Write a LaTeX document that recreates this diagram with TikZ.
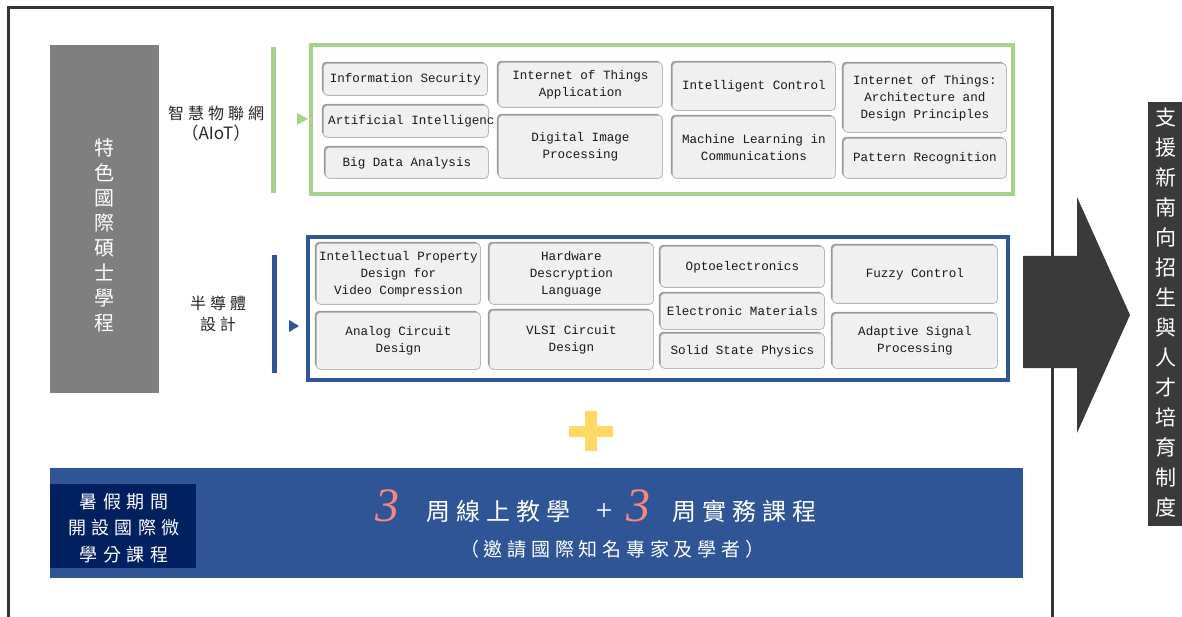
\documentclass[tikz,border=0pt]{standalone}
\usepackage{fontspec}
\setmainfont{Liberation Serif}
\newfontfamily\cjk[LetterSpace=25]{Noto Sans CJK TC}
\newfontfamily\cjkw[LetterSpace=30]{Noto Sans CJK TC}
\newfontfamily\cjkv{Noto Sans CJK TC}
\newfontfamily\mono{Liberation Mono}
\usetikzlibrary{shadows}
\definecolor{framegray}{HTML}{333333}
\definecolor{boxgray}{HTML}{7F7F7F}
\definecolor{aiotgreen}{HTML}{A9D18E}
\definecolor{semiblue}{HTML}{2F5597}
\definecolor{navy}{HTML}{002060}
\definecolor{arrowgray}{HTML}{3A3A3A}
\definecolor{plusyellow}{HTML}{FFD966}
\definecolor{threepink}{HTML}{F4877F}
\definecolor{cellfill}{HTML}{F0F0F0}
\tikzset{
  cell/.style={draw=gray!55, line width=0.8pt, fill=cellfill, rounded corners=4pt,
    drop shadow={shadow xshift=-1.5pt, shadow yshift=1.5pt, fill=gray!80, opacity=1},
    anchor=north west, inner sep=0pt, align=center,
    font=\mono\fontsize{12.6}{17}\selectfont, text=black!85},
  celltext/.style={inner sep=0pt, align=center, font=\mono\fontsize{12.6}{17}\selectfont, text=black!90},
  catlabel/.style={inner sep=0pt, align=center, font=\cjk\fontsize{16}{21}\selectfont, text=black!85},
}
\begin{document}
\begin{tikzpicture}[x=1pt, y=-1pt]
\useasboundingbox (0,0) rectangle (1182,617);
% outer frame
\draw[framegray, line width=3pt] (8,625) -- (8,8) -- (1052,8) -- (1052,625);

% left gray box
\node[fill=boxgray, minimum width=109pt, minimum height=348pt, inner sep=0pt, anchor=north west] (prog) at (50,45) {};
\node[inner sep=0pt, align=center, text=white, font=\cjkv\fontsize{20}{25}\selectfont] (progtext) at (104.5,235) {特\\色\\國\\際\\碩\\士\\學\\程};

% AIoT label
\node[catlabel] (aiot) at (216,124) {智慧物聯網\\[-1pt]{\cjkv\fontsize{17}{21}\selectfont （AIoT）}};
\fill[aiotgreen] (271,47) rectangle (276,193);
\fill[aiotgreen] (297,113) -- (308,119) -- (297,125) -- cycle;
\draw[aiotgreen, line width=4pt] (311,45) rectangle (1013,194);

% AIoT cells
\node[cell, minimum width=164pt, minimum height=32pt] (is) at (323,63) {};
\node[celltext] at (is.center) {Information Security};
\node[cell, minimum width=165pt, minimum height=32pt] (ai) at (323,105) {};
\node[celltext, anchor=west] at (328,121) {Artificial Intelligenc};
\node[cell, minimum width=163pt, minimum height=31pt] (bd) at (325,147) {};
\node[celltext] at (bd.center) {Big Data Analysis};
\node[cell, minimum width=164pt, minimum height=45pt] (iota) at (498,62) {};
\node[celltext] at (iota.center) {Internet of Things\\Application};
\node[cell, minimum width=164pt, minimum height=63pt] (dip) at (498,115) {};
\node[celltext] at (dip.center) {Digital Image\\Processing};
\node[cell, minimum width=163pt, minimum height=48pt] (ic) at (672,62) {};
\node[celltext] at (ic.center) {Intelligent Control};
\node[cell, minimum width=163pt, minimum height=62pt] (ml) at (672,116) {};
\node[celltext] at (ml.center) {Machine Learning in\\Communications};
\node[cell, minimum width=163pt, minimum height=69pt] (iotarch) at (843,63) {};
\node[celltext] at (iotarch.center) {Internet of Things:\\Architecture and\\Design Principles};
\node[cell, minimum width=163pt, minimum height=40pt] (pr) at (843,138) {};
\node[celltext] at (pr.center) {Pattern Recognition};

% Semiconductor label
\node[catlabel] (semi) at (218,314) {半導體\\設計};
\fill[semiblue] (272,255) rectangle (277,373);
\fill[semiblue] (289,320) -- (299,326) -- (289,332) -- cycle;
\draw[semiblue, line width=4pt] (308,237) rectangle (1008,380);

% Semiconductor cells
\node[cell, minimum width=164pt, minimum height=61pt] (ip) at (316,243) {};
\node[celltext] at (ip.center) {Intellectual Property\\Design for\\Video Compression};
\node[cell, minimum width=164pt, minimum height=61pt] (hdl) at (489,243) {};
\node[celltext] at (hdl.center) {Hardware\\Descryption\\Language};
\node[cell, minimum width=164pt, minimum height=41pt] (opto) at (660,246) {};
\node[celltext] at (opto.center) {Optoelectronics};
\node[cell, minimum width=164pt, minimum height=36pt] (em) at (660,293) {};
\node[celltext] at (em.center) {Electronic Materials};
\node[cell, minimum width=164pt, minimum height=35pt] (ssp) at (660,333) {};
\node[celltext] at (ssp.center) {Solid State Physics};
\node[cell, minimum width=165pt, minimum height=58pt] (fuzzy) at (832,245) {};
\node[celltext] at (fuzzy.center) {Fuzzy Control};
\node[cell, minimum width=164pt, minimum height=57pt] (analog) at (316,312) {};
\node[celltext] at (analog.center) {Analog Circuit\\Design};
\node[cell, minimum width=164pt, minimum height=59pt] (vlsi) at (489,310) {};
\node[celltext] at (vlsi.center) {VLSI Circuit\\Design};
\node[cell, minimum width=165pt, minimum height=55pt] (asp) at (832,313) {};
\node[celltext] at (asp.center) {Adaptive Signal\\Processing};

% yellow plus
\fill[plusyellow] (569,426) rectangle (613,437);
\fill[plusyellow] (585,411) rectangle (597,451);

% bottom banner
\node[fill=semiblue, minimum width=973pt, minimum height=110pt, inner sep=0pt, anchor=north west] (banner) at (50,468) {};
\node[fill=navy, minimum width=146pt, minimum height=84pt, inner sep=0pt, anchor=north west] (summer) at (50,484) {};
\node[inner sep=0pt, align=center, text=white, font=\cjkw\fontsize{18}{26.5}\selectfont] (summertext) at (124,528) {暑假期間\\開設國際微\\學分課程};
\node[inner sep=0pt, anchor=west, text=threepink, font=\itshape\fontsize{48}{48}\selectfont] (three1) at (375,506) {3};
\node[inner sep=0pt, anchor=west, text=white, font=\cjk\fontsize{24}{24}\selectfont] (online) at (426,511) {周線上教學};
\node[inner sep=0pt, text=white, font=\fontsize{30}{30}\selectfont] (plus2) at (604,512) {+};
\node[inner sep=0pt, anchor=west, text=threepink, font=\itshape\fontsize{48}{48}\selectfont] (three2) at (626,506) {3};
\node[inner sep=0pt, anchor=west, text=white, font=\cjk\fontsize{24}{24}\selectfont] (practice) at (672,511) {周實務課程};
\node[inner sep=0pt, text=white, font=\cjk\fontsize{19}{19}\selectfont] (invite) at (612,549) {（邀請國際知名專家及學者）};

% big arrow
\fill[arrowgray] (1023,256) -- (1077,256) -- (1077,197) -- (1130,315) -- (1077,433) -- (1077,368) -- (1023,368) -- cycle;
\node[fill=arrowgray, minimum width=36pt, minimum height=424pt, inner sep=0pt, anchor=north west] (support) at (1148,102) {};
\node[inner sep=0pt, align=center, text=white, font=\cjkv\fontsize{21}{30}\selectfont] (supporttext) at (1166,313) {支\\援\\新\\南\\向\\招\\生\\與\\人\\才\\培\\育\\制\\度};
\end{tikzpicture}
\end{document}
